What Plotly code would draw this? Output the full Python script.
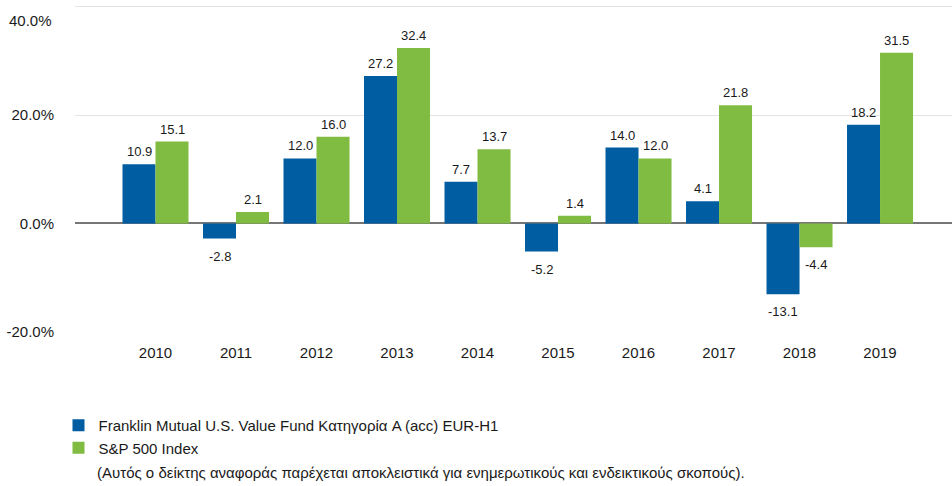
import plotly.graph_objects as go

years = ["2010", "2011", "2012", "2013", "2014", "2015", "2016", "2017", "2018", "2019"]
fund = [10.9, -2.8, 12.0, 27.2, 7.7, -5.2, 14.0, 4.1, -13.1, 18.2]
sp500 = [15.1, 2.1, 16.0, 32.4, 13.7, 1.4, 12.0, 21.8, -4.4, 31.5]
fund_name = "Franklin Mutual U.S. Value Fund Κατηγορία A (acc) EUR-H1"
sp_name = "S&P 500 Index"
note = "(Αυτός ο δείκτης αναφοράς παρέχεται αποκλειστικά για ενημερωτικούς και ενδεικτικούς σκοπούς)."
y_ticks = [-20, 0, 20, 40]

BLUE = "#005DA2"
GREEN = "#80BC41"
FONT = "Liberation Sans, Arial, sans-serif"
TXT = "#1a1a1a"

PLOT_BOTTOM = 332.0
PLOT_H = 328.0

def py(pixel_y):
    return (PLOT_BOTTOM - pixel_y) / PLOT_H

def px(pixel_x):
    return (pixel_x - 75) / 877

xpos = list(range(len(years)))

fig = go.Figure()
fig.add_trace(go.Bar(x=xpos, y=fund, name=fund_name, marker=dict(color=BLUE, line=dict(width=0))))
fig.add_trace(go.Bar(x=xpos, y=sp500, name=sp_name, marker=dict(color=GREEN, line=dict(width=0))))

annotations = []
for series, shift in ((fund, -16.5), (sp500, 16.5)):
    for xi, v in zip(xpos, series):
        pos = v >= 0
        annotations.append(dict(
            x=xi, y=v, xref="x", yref="y", text=f"{v:.1f}", showarrow=False,
            xshift=shift, yshift=3 if pos else -8,
            yanchor="bottom" if pos else "top", xanchor="center",
            font=dict(family=FONT, size=13, color=TXT)))

# top tick label sits just below its gridline, as in the original
annotations.append(dict(
    x=0, y=y_ticks[-1], xref="paper", yref="y", text=f"{y_ticks[-1]:.1f}%",
    showarrow=False, xanchor="right", yanchor="middle", xshift=-21, yshift=-14,
    font=dict(family=FONT, size=15, color=TXT)))

annotations.append(dict(
    x=px(94.5), y=py(472), xref="paper", yref="paper",
    text=note, showarrow=False, xanchor="left", yanchor="middle",
    font=dict(family=FONT, size=15, color=TXT)))

fig.update_layout(
    width=952, height=486,
    margin=dict(l=75, r=0, t=4, b=154, pad=0),
    paper_bgcolor="white", plot_bgcolor="white",
    barmode="group", bargap=0.18, bargroupgap=0,
    font=dict(family=FONT, size=15, color=TXT),
    showlegend=True,
    legend=dict(
        orientation="v", x=px(58.5), y=py(409),
        xanchor="left", yanchor="top", bgcolor="rgba(0,0,0,0)",
        font=dict(family=FONT, size=15, color=TXT), tracegroupgap=0,
    ),
    annotations=annotations,
    xaxis=dict(
        range=[-1, 9.894], tickvals=xpos, ticktext=years,
        showgrid=False, showline=False, zeroline=False,
        ticks="", tickfont=dict(family=FONT, size=15, color=TXT), ticklabelstandoff=10,
        fixedrange=True,
    ),
    yaxis=dict(
        range=[-20.05, 40.5], tickvals=y_ticks,
        ticktext=[f"{t:.1f}%" if t != y_ticks[-1] else "" for t in y_ticks],
        showgrid=True, gridcolor="#e3e3e3", gridwidth=1,
        zeroline=True, zerolinecolor="#767676", zerolinewidth=2,
        showline=False, ticks="", tickfont=dict(family=FONT, size=15, color=TXT),
        ticklabelstandoff=20, fixedrange=True,
    ),
)

fig.write_html("out.html")
